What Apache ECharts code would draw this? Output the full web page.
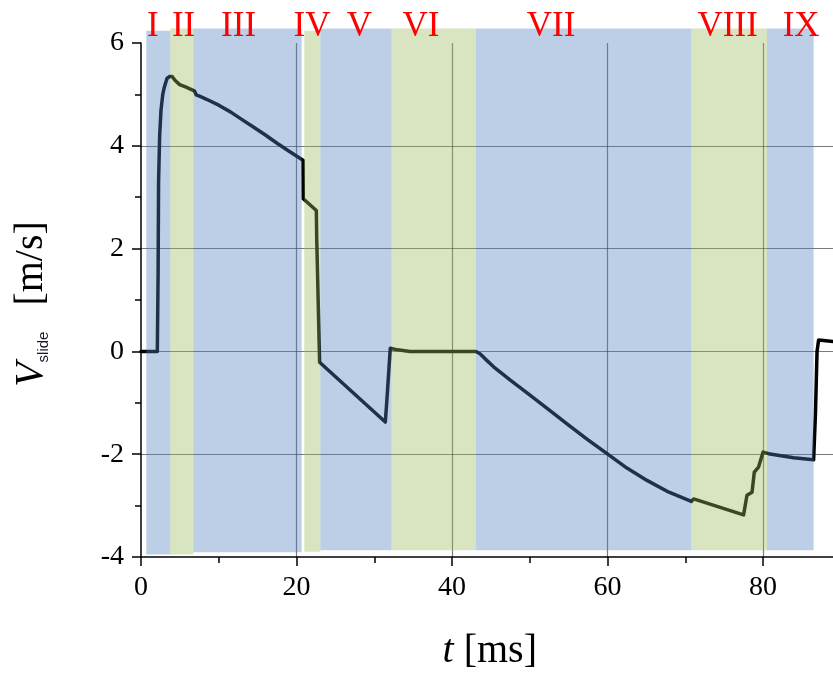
<!doctype html>
<html>
<head>
<meta charset="utf-8">
<title>Vslide</title>
<script src="https://cdn.jsdelivr.net/npm/echarts@6/dist/echarts.min.js"></script>
<style>
  html, body { margin: 0; padding: 0; background: #fff; }
  #chart { width: 833px; height: 674px; }
</style>
</head>
<body>
<div id="chart"></div>
<script>
// sliding velocity curve, t in ms, V in m/s
var tData = [0, 2.1, 2.2, 2.26, 2.4, 2.57, 2.8, 3.0, 3.34, 3.7, 3.99, 4.4, 4.97, 5.8, 6.56, 6.9, 7.11, 7.6, 8.5,
  10.0, 11.5, 13.0, 14.5, 16.0, 17.5, 19.0, 20.84, 20.87, 22.55, 22.6, 22.97, 31.42, 31.6, 32.06,
  33.0, 34.6, 43.08, 43.6, 44.3, 45.35, 47.5, 50.07, 52.4, 54.79, 57.4, 59.94, 62.5, 65.08, 67.9, 70.78, 71.08,
  77.5, 77.94, 78.59, 78.88, 79.43, 80.0, 80.72, 83.93, 86.51, 86.75, 86.95, 87.15, 89.2];
var vData = [0, 0, 1.5, 3.3, 4.2, 4.69, 5.0, 5.14, 5.31, 5.35, 5.35, 5.27, 5.19, 5.14, 5.09, 5.06, 4.99, 4.96, 4.90,
  4.79, 4.66, 4.51, 4.36, 4.21, 4.05, 3.90, 3.72, 2.97, 2.74, 2.2, -0.21, -1.375, -1.0, 0.06,
  0.03, 0.0, 0.0, -0.045, -0.15, -0.3, -0.56, -0.856, -1.13, -1.41, -1.71, -1.99, -2.27, -2.51, -2.74, -2.92, -2.87,
  -3.18, -2.80, -2.74, -2.35, -2.25, -1.96, -1.99, -2.07, -2.11, -1.2, 0.0, 0.22, 0.19];

// regions I..IX
var regionNames = ['I', 'II', 'III', 'IV', 'V', 'VI', 'VII', 'VIII', 'IX'];
var bandStart = [0.68, 3.77, 6.73, 21.0, 23.07, 32.23, 43.08, 70.78, 80.51];
var bandEnd = [3.77, 6.73, 20.66, 23.07, 32.23, 43.08, 70.78, 80.51, 86.51];
var bandTop = [6.24, 6.28, 6.28, 6.24, 6.28, 6.28, 6.28, 6.28, 6.28];
var bandBottom = [-3.95, -3.95, -3.91, -3.9, -3.87, -3.87, -3.87, -3.87, -3.87];
var bandKind = [0, 1, 0, 1, 0, 1, 0, 1, 0]; // 0 blue, 1 green
var regionLabelX = [1.52, 5.48, 12.55, 22.0, 28.08, 36.0, 52.75, 75.46, 84.9];
var regionLabelY = 6.31;

var xTicks = [0, 20, 40, 60, 80];
var yTicks = [-4, -2, 0, 2, 4, 6];

var bandColors = ['rgba(79,129,189,0.38)', 'rgba(155,187,89,0.38)'];

var chart = echarts.init(document.getElementById('chart'));

var curve = tData.map(function (t, i) { return [t, vData[i]]; });
var bands = bandStart.map(function (s, i) { return [s, bandEnd[i], bandBottom[i], bandTop[i], bandKind[i]]; });
var labels = regionLabelX.map(function (x) { return [x, regionLabelY]; });

var serif = '"Liberation Serif", "DejaVu Serif", serif';
var gridLine = { color: 'rgba(0,0,0,0.52)', width: 1.2 };

var option = {
  animation: false,
  backgroundColor: '#fff',
  // x range runs past the right edge so 89 ms sits at the window border
  grid: { left: 141, right: -85.5, top: 43, bottom: 117, outerBoundsMode: 'none' },
  xAxis: {
    type: 'value', min: xTicks[0], max: 100, interval: 20,
    name: '{t|t}{u|[ms]}',
    nameLocation: 'middle', nameGap: 74,
    nameTextStyle: {
      padding: [0, 80, 0, 0],
      rich: {
        t: { fontFamily: serif, fontStyle: 'italic', fontSize: 40, color: '#000' },
        u: { fontFamily: serif, fontSize: 40, color: '#000', padding: [0, 0, 0, 10] }
      }
    },
    axisLine: { show: true, onZero: false, lineStyle: { color: '#000', width: 1.5 } },
    axisTick: { show: true, inside: false, length: 9, lineStyle: { color: '#000', width: 1.5 } },
    minorTick: { show: true, splitNumber: 2, length: 6, lineStyle: { color: '#000', width: 1.5 } },
    axisLabel: { fontFamily: serif, fontSize: 28, color: '#000', margin: 17, showMaxLabel: false },
    splitLine: { show: true, showMinLine: false, lineStyle: gridLine }
  },
  yAxis: {
    type: 'value', min: yTicks[0], max: yTicks[yTicks.length - 1], interval: 2,
    name: '{v|V}{s|slide}{u|[m/s]}',
    nameLocation: 'middle', nameRotate: 90, nameGap: 90,
    nameTextStyle: {
      padding: [0, 8, 0, 0],
      rich: {
        v: { fontFamily: serif, fontStyle: 'italic', fontSize: 40, lineHeight: 40, color: '#000' },
        s: { fontFamily: 'Arial, "Liberation Sans", sans-serif', fontSize: 15, lineHeight: 15, color: '#1a1a2e', verticalAlign: 'bottom' },
        u: { fontFamily: serif, fontSize: 40, lineHeight: 40, color: '#000', padding: [0, 0, 0, 26] }
      }
    },
    axisLine: { show: true, onZero: false, lineStyle: { color: '#000', width: 1.5 } },
    axisTick: { show: true, inside: false, length: 9, lineStyle: { color: '#000', width: 1.5 } },
    minorTick: { show: true, splitNumber: 2, length: 6, lineStyle: { color: '#000', width: 1.5 } },
    axisLabel: { fontFamily: serif, fontSize: 28, color: '#000', margin: 17 },
    splitLine: { show: true, showMinLine: false, showMaxLine: false, lineStyle: gridLine }
  },
  series: [
    {
      type: 'line',
      data: curve,
      showSymbol: false,
      z: 2,
      lineStyle: { color: '#000', width: 3.5, join: 'round', cap: 'round' }
    },
    {
      // translucent region bands laid over the curve
      type: 'custom',
      data: bands,
      clip: false,
      silent: true,
      z: 3,
      encode: { x: [0, 1], y: [2, 3] },
      renderItem: function (params, api) {
        var p0 = api.coord([api.value(0), api.value(3)]);
        var p1 = api.coord([api.value(1), api.value(2)]);
        return {
          type: 'rect',
          shape: { x: p0[0], y: p0[1], width: p1[0] - p0[0], height: p1[1] - p0[1] },
          style: { fill: bandColors[api.value(4)] }
        };
      }
    },
    {
      type: 'custom',
      data: labels,
      clip: false,
      silent: true,
      z: 4,
      encode: { x: 0, y: 1 },
      renderItem: function (params, api) {
        var p = api.coord([api.value(0), api.value(1)]);
        return {
          type: 'text',
          x: p[0], y: p[1],
          style: {
            text: regionNames[params.dataIndex],
            fill: '#ff0000',
            fontFamily: serif,
            fontSize: 35,
            align: 'center',
            verticalAlign: 'middle'
          }
        };
      }
    }
  ]
};

chart.setOption(option);
</script>
</body>
</html>
